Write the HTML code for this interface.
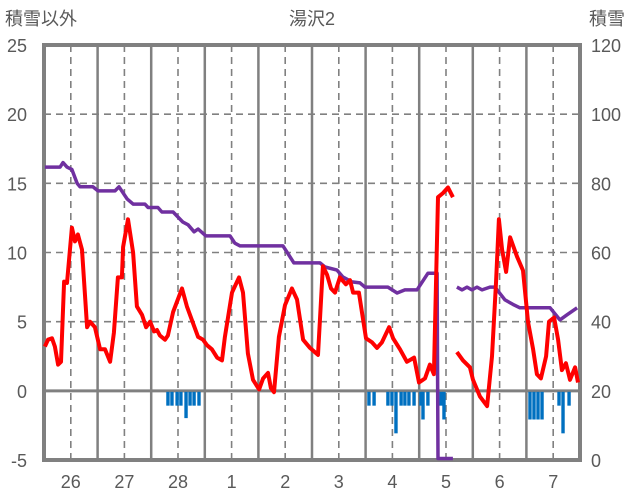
<!DOCTYPE html>
<html><head><meta charset="utf-8"><style>
body{margin:0;background:#fff;width:636px;height:501px;overflow:hidden}
svg{display:block;font-family:"Liberation Sans","Noto Sans CJK JP",sans-serif}
</style></head><body>
<svg id="chart" width="636" height="501" viewBox="0 0 636 501">
<text x="312" y="25" text-anchor="middle" font-size="18" fill="#595959">湯沢2</text>
<text x="5" y="25" font-size="18" fill="#595959">積雪以外</text>
<text x="589" y="25" font-size="18" fill="#595959">積雪</text>
<g id="grid"></g><g id="bars"></g><g id="axes"></g><g id="lines"></g>
</svg>
<script>
const dayLabels=["26","27","28","1","2","3","4","5","6","7"];
const leftTicks=[-5,0,5,10,15,20,25];
const rightTicks=[0,20,40,60,80,100,120];
const redHours=[0.4,1.8,3.6,4.9,6.3,7.6,9,10.3,12.5,13.9,15.2,17,19.3,20.6,22.8,25.1,27.3,29.6,31.3,33.1,34.9,35.4,37.6,39.9,41.6,43.9,45.7,47.5,49.3,50.6,51.9,54.2,55.5,57.8,61.8,64,66.7,69,71.2,73,75.2,77.5,79.7,81,84.2,87.3,89.1,91.3,93.6,96.3,98.1,100.3,101.6,103,105.2,107.9,111,113.3,116,119.1,122.7,124.9,126.7,128.5,130.3,132.5,135.2,137,138.4,141,144.2,146.9,149.1,151.3,154.5,156.3,159.4,162.5,165.7,167.9,170.6,172.8,174.6,176.4,178.7,180.9,183.1,null,184.9,187.6,190.7,192.1,195.2,198.4,200.6,202.4,203.7,205.1,206.9,208.7,211.8,214.5,216.7,219,220.7,222.5,224.8,226.1,228.4,230.2,231.9,233.7,235.5,237.8,239.1];
const redValues=[3.2,3.7,3.8,3.2,1.9,2.1,7.9,7.8,11.8,10.8,11.3,10.2,4.6,5.0,4.6,3.0,3.0,2.1,4.2,8.2,8.2,10.4,12.4,10.0,6.1,5.5,4.6,5.0,4.3,4.4,4.0,3.7,4.0,5.7,7.4,6.1,4.9,3.9,3.7,3.3,3.0,2.4,2.2,3.9,7.1,8.2,7.1,2.7,0.8,0.1,0.9,1.3,0.2,-0.1,3.9,6.2,7.4,6.6,3.7,3.1,2.6,9.0,8.4,7.4,7.1,8.2,7.7,8.0,7.1,7.1,3.8,3.5,3.1,3.5,4.6,3.8,3.0,2.1,2.4,0.6,0.9,1.9,1.2,14.0,14.3,14.7,14.0,null,2.8,2.2,1.7,0.8,-0.4,-1.1,2.5,7.8,12.4,10.2,8.6,11.1,9.7,8.7,5.0,3.0,1.2,0.9,2.5,5.0,5.3,3.7,1.5,2.0,0.8,1.7,0.6];
const snowHours=[0.4,7.2,8.5,10.3,12.5,14.8,16.1,21.9,24.2,31.8,33.6,37.2,39.9,45.2,46.6,51,52.8,57.8,62.2,64.5,67.2,69,72.5,83.3,85.5,87.8,107,111.9,123.6,125.8,131.2,133.9,137.9,141.5,143.7,154,158.1,161.6,167,171.9,176,176.4,183.1,null,184.9,187.2,189.4,191.6,193.9,196.1,199.7,201.9,206.4,210,213.1,226.6,231,234.2,238.7];
const snowValues=[84.7,84.7,86,84.7,84,80,79,79,77.8,77.8,79,75.5,74,74,73,73,71.7,71.7,68.8,68,66,66.8,64.8,64.8,62.7,61.9,61.9,57,57,55.8,54.9,52.9,51.5,51.2,50,50,48.3,49.2,49.2,54,54,0,0,null,50,49.2,50,49.2,50,49.2,50,50,46.3,45,44,44,40.5,42,44];
const precipHours=[55.5,57.3,59.6,61.3,63.6,65.4,67.2,69.4,145.5,147.8,154,155.8,157.6,159.9,161.6,163.4,165.7,168.8,169.7,171.9,177.8,179.1,217.6,219.4,221.2,223,230.6,232.4,235.1];
const precipValues=[-1,-1,-1,-1,-1.9,-1,-1,-1,-1,-1,-1,-1,-3,-1,-1,-1,-1,-1,-2,-1,-1,-2,-2,-2,-2,-2,-1,-3,-1];

const X0=44,X1=580,Y0=45,Y1=460,HOURS=240;
const x=h=>X0+h*(X1-X0)/HOURS;
const yL=v=>Y1-(v+5)*(Y1-Y0)/30;
const yR=v=>Y1-v*(Y1-Y0)/120;
const NS="http://www.w3.org/2000/svg";
function mk(tag,parent,attrs){const e=document.createElementNS(NS,tag);for(const k in attrs)e.setAttribute(k,attrs[k]);document.getElementById(parent).appendChild(e);return e;}

leftTicks.forEach(t=>{
  if(t>-5&&t<25){const g=mk('line','grid',{x1:X0,x2:X1,y1:yL(t),y2:yL(t),stroke:'#808080','stroke-width':t===0?3:1.6,'stroke-dasharray':t===0?'':'7,5'});
  
  }
  const l=mk('text','axes',{x:27,y:yL(t)+7,'text-anchor':'end','font-size':18,fill:'#595959'});
  
  
  l.textContent=t;
});
rightTicks.forEach(t=>{
  const l=mk('text','axes',{x:591,y:yR(t)+7,'font-size':18,fill:'#595959'});
  
  
  l.textContent=t;
});
dayLabels.forEach((d,i)=>{
  if(i>0){const s=mk('line','grid',{x1:x(i*24),x2:x(i*24),y1:Y0,y2:Y1,stroke:'#808080','stroke-width':2.5});
  
  }
  const m=mk('line','grid',{x1:x(i*24+12),x2:x(i*24+12),y1:Y0,y2:Y1,stroke:'#808080','stroke-width':1.6,'stroke-dasharray':'7,5'});
  
  
  const l=mk('text','axes',{x:x(i*24+12),y:488,'text-anchor':'middle','font-size':18,fill:'#595959'});
  
  
  l.textContent=d;
});
precipHours.forEach((h,i)=>{
  const v=precipValues[i];
  const r=mk('rect','bars',{x:x(h)-1.7,y:yL(0)+1,width:3.4,height:yL(v)-yL(0),fill:'#0070c0'});
  
  
});
const fr=mk('rect','axes',{x:X0,y:Y0,width:X1-X0,height:Y1-Y0,fill:'none',stroke:'#808080','stroke-width':4});


function path(hs,vs,ys){let d='',pen=false;hs.forEach((h,i)=>{if(h===null||vs[i]===null){pen=false;return;}d+=(pen?'L':'M')+x(h).toFixed(1)+','+Math.min(ys(vs[i]),458.5).toFixed(1);pen=true;});return d;}
const sp=mk('path','lines',{d:path(snowHours,snowValues,yR),fill:'none',stroke:'#7030a0','stroke-width':3.5,'stroke-linejoin':'round'});


const rp=mk('path','lines',{d:path(redHours,redValues,yL),fill:'none',stroke:'#ff0000','stroke-width':4,'stroke-linejoin':'round'});


</script>
</body></html>
